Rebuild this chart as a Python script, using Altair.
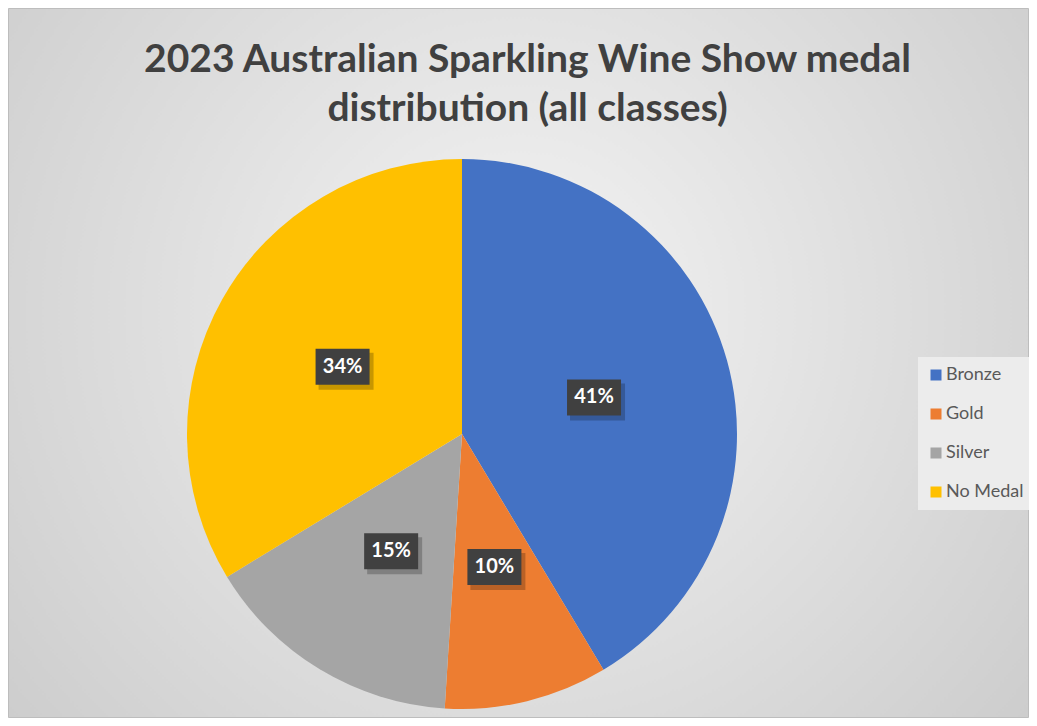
import altair as alt
import pandas as pd

# ---- data ----
categories = ["Bronze", "Gold", "Silver", "No Medal"]
shares = [41.4, 9.6, 15.3, 33.7]
colors = ["#4472C4", "#ED7D31", "#A5A5A5", "#FFC000"]
title_lines = ["2023 Australian Sparkling Wine Show medal", "distribution (all classes)"]

# ---- layout constants ----
W, H = 1021, 710
CX, CY, R = 454, 426, 275
LR = 137          # label radius
BW, BH = 27, 18   # half sizes of label boxes

df = pd.DataFrame({"medal": categories, "share": shares, "idx": list(range(len(categories)))})

bg = alt.Chart(alt.Data(values=[{"k": 1}])).mark_rect(
    fill={
        "gradient": "radial",
        "x1": 0.5, "y1": 0.45, "r1": 0,
        "x2": 0.5, "y2": 0.45, "r2": 0.75,
        "stops": [
            {"offset": 0, "color": "#f4f4f4"},
            {"offset": 1, "color": "#c6c6c6"},
        ],
    },
    stroke="#bdbdbd",
    strokeWidth=1,
).encode(x=alt.value(0.5), x2=alt.value(W - 0.5), y=alt.value(0.5), y2=alt.value(H - 0.5))

pie = alt.Chart(df).mark_arc(outerRadius=R, stroke=None).encode(
    theta=alt.Theta("share:Q", stack=True),
    order=alt.Order("idx:Q", sort="ascending"),
    color=alt.Color(
        "medal:N",
        scale=alt.Scale(domain=categories, range=colors),
        legend=alt.Legend(
            title=None,
            orient="none",
            legendX=910,
            legendY=349,
            direction="vertical",
            symbolType="square",
            symbolSize=121,
            symbolStrokeWidth=0,
            labelFont="Lato",
            labelFontSize=18,
            labelColor="#595959",
            rowPadding=21,
            padding=9,
            fillColor="#ececec",
            labelOffset=1,
        ),
    ),
    x=alt.value(CX),
    y=alt.value(CY),
)

lab = (
    alt.Chart(df)
    .transform_window(cum="sum(share)", sort=[alt.SortField("idx", order="ascending")], frame=[None, 0])
    .transform_joinaggregate(total="sum(share)")
    .transform_calculate(mid="2*PI*(datum.cum - datum.share/2)/datum.total")
    .transform_calculate(px=f"{CX} + {LR}*sin(datum.mid)")
    .transform_calculate(py=f"{CY} - {LR}*cos(datum.mid)")
    .transform_calculate(pct="format(datum.share/datum.total, '.0%')")
    .transform_calculate(bx1=f"datum.px - {BW}", bx2=f"datum.px + {BW}")
    .transform_calculate(by1=f"datum.py - {BH}", by2=f"datum.py + {BH}")
    .transform_calculate(sx1="datum.bx1 + 3", sx2="datum.bx2 + 4")
    .transform_calculate(sy1="datum.by1 + 4", sy2="datum.by2 + 5")
)

shadow = lab.mark_rect(color="#000000", opacity=0.22).encode(
    x=alt.X("sx1:Q", scale=None, axis=None),
    x2="sx2:Q",
    y=alt.Y("sy1:Q", scale=None, axis=None),
    y2="sy2:Q",
)

box = lab.mark_rect(color="#404040", opacity=1).encode(
    x=alt.X("bx1:Q", scale=None, axis=None),
    x2="bx2:Q",
    y=alt.Y("by1:Q", scale=None, axis=None),
    y2="by2:Q",
)

txt = lab.mark_text(
    font="Lato", fontSize=20, fontWeight="bold", color="#ffffff", align="center", baseline="middle"
).encode(
    x=alt.X("px:Q", scale=None, axis=None),
    y=alt.Y("py:Q", scale=None, axis=None),
    text="pct:N",
)

chart = (
    alt.layer(bg, pie, shadow, box, txt)
    .properties(
        width=W,
        height=H,
        padding=0,
        autosize=alt.AutoSizeParams(type="none"),
        title=alt.Title(
            text=title_lines,
            font="Lato",
            fontSize=39,
            fontWeight="bold",
            color="#404040",
            anchor="middle",
            frame="group",
            baseline="top",
            offset=0,
            dy=121,
            dx=9,
            lineHeight=49,
        ),
    )
    .configure_view(stroke=None)
)

chart.save("out.html", embed_options={"renderer": "svg", "actions": False})
